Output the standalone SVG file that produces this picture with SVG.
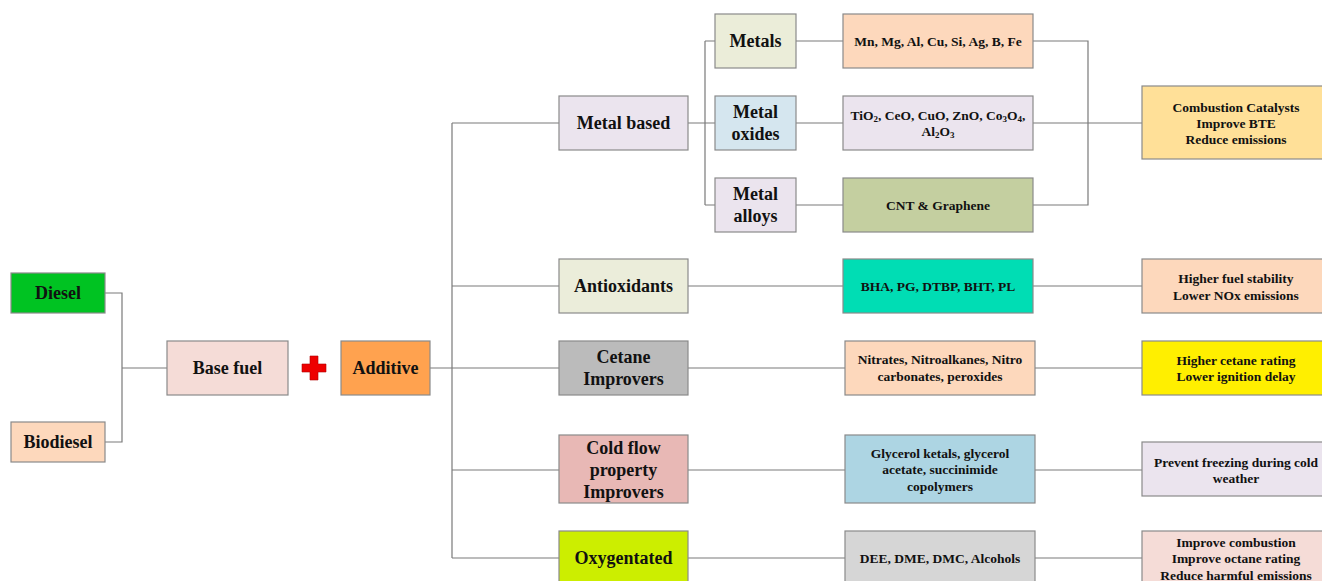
<svg xmlns="http://www.w3.org/2000/svg" width="1322" height="581" viewBox="0 0 1322 581">
  <style>
    .box { stroke: #8a8a8a; stroke-width: 1.2; }
    .lbl { font-family: "Liberation Serif", "Times New Roman", serif; font-weight: bold; fill: #111; text-anchor: middle; dominant-baseline: central; }
    .base { dominant-baseline: auto; }
    .big { font-size: 18px; }
    .sm { font-size: 13.5px; }
    .sub { font-size: 9px; }
    .wire { fill: none; stroke: #7a7a7a; stroke-width: 1.2; }
  </style>
  <rect width="1322" height="581" fill="#ffffff"/>

  <g id="connectors">
    <path class="wire" d="M105 293 H122 V442 H105 M122 368 H167"/>
    <path class="wire" d="M430 368 H452 M452 123 V558 M452 123 H559 M452 286 H559 M452 368 H559 M452 470 H559 M452 558 H559"/>
    <path class="wire" d="M688 123 H705 M705 41 V205 M705 41 H715 M705 123 H715 M705 205 H715"/>
    <path class="wire" d="M796 41 H843 M796 123 H843 M796 205 H843"/>
    <path class="wire" d="M1033 41 H1088 V205 H1033 M1033 123 H1142"/>
    <path class="wire" d="M688 286 H843 M1033 286 H1142"/>
    <path class="wire" d="M688 368 H845 M1035 368 H1142"/>
    <path class="wire" d="M688 470 H845 M1035 470 H1142"/>
    <path class="wire" d="M688 558 H845 M1035 558 H1142"/>
  </g>

  <g id="diesel">
    <rect class="box" x="11" y="273" width="94" height="40" fill="#00c322"/>
    <text class="lbl big" x="58" y="293">Diesel</text>
  </g>
  <g id="biodiesel">
    <rect class="box" x="11" y="422" width="94" height="40" fill="#fdd8bc"/>
    <text class="lbl big" x="58" y="442">Biodiesel</text>
  </g>
  <g id="base-fuel">
    <rect class="box" x="167" y="341" width="121" height="54" fill="#f5dcd7"/>
    <text class="lbl big" x="227.5" y="368">Base fuel</text>
  </g>
  <g id="plus">
    <path d="M310 356 H318 V364 H326 V372 H318 V380 H310 V372 H302 V364 H310 Z" fill="#ee0000" stroke="#b00000" stroke-width="0.6"/>
  </g>
  <g id="additive">
    <rect class="box" x="341" y="341" width="89" height="54" fill="#ffa24f"/>
    <text class="lbl big" x="385.5" y="368">Additive</text>
  </g>

  <g id="metal-based">
    <rect class="box" x="559" y="96" width="129" height="54" fill="#ebe4ee"/>
    <text class="lbl big" x="623.5" y="123">Metal based</text>
  </g>
  <g id="metals">
    <rect class="box" x="715" y="14" width="81" height="54" fill="#ebedd9"/>
    <text class="lbl big" x="755.5" y="41">Metals</text>
  </g>
  <g id="metal-oxides">
    <rect class="box" x="715" y="96" width="81" height="54" fill="#d5e6ef"/>
    <text class="lbl big" x="755.5" y="112">Metal</text>
    <text class="lbl big" x="755.5" y="134">oxides</text>
  </g>
  <g id="metal-alloys">
    <rect class="box" x="715" y="178" width="81" height="54" fill="#ebe4ee"/>
    <text class="lbl big" x="755.5" y="194">Metal</text>
    <text class="lbl big" x="755.5" y="216">alloys</text>
  </g>
  <g id="metals-list">
    <rect class="box" x="843" y="14" width="190" height="54" fill="#fdd8bc"/>
    <text class="lbl sm" x="938" y="41">Mn, Mg, Al, Cu, Si, Ag, B, Fe</text>
  </g>
  <g id="oxides-list">
    <rect class="box" x="843" y="96" width="190" height="54" fill="#ebe4ee"/>
    <text class="lbl base sm" x="938" y="119.5">TiO<tspan class="sub" dy="2">2</tspan><tspan dy="-2">, CeO, CuO, ZnO, Co</tspan><tspan class="sub" dy="2">3</tspan><tspan dy="-2">O</tspan><tspan class="sub" dy="2">4</tspan><tspan dy="-2">,</tspan></text>
    <text class="lbl base sm" x="938" y="135.5">Al<tspan class="sub" dy="2">2</tspan><tspan dy="-2">O</tspan><tspan class="sub" dy="2">3</tspan></text>
  </g>
  <g id="alloys-list">
    <rect class="box" x="843" y="178" width="190" height="54" fill="#c4cfa0"/>
    <text class="lbl sm" x="938" y="205">CNT &amp; Graphene</text>
  </g>
  <g id="metal-effects">
    <rect class="box" x="1142" y="86" width="190" height="73" fill="#ffe098"/>
    <text class="lbl sm" x="1236" y="107">Combustion Catalysts</text>
    <text class="lbl sm" x="1236" y="123">Improve BTE</text>
    <text class="lbl sm" x="1236" y="139">Reduce emissions</text>
  </g>

  <g id="antioxidants">
    <rect class="box" x="559" y="259" width="129" height="54" fill="#ebedda"/>
    <text class="lbl big" x="623.5" y="286">Antioxidants</text>
  </g>
  <g id="antioxidants-list">
    <rect class="box" x="843" y="259" width="190" height="54" fill="#00ddb4"/>
    <text class="lbl sm" x="938" y="286">BHA, PG, DTBP, BHT, PL</text>
  </g>
  <g id="antioxidants-effects">
    <rect class="box" x="1142" y="259" width="190" height="54" fill="#fdd8bc"/>
    <text class="lbl sm" x="1236" y="278">Higher fuel stability</text>
    <text class="lbl sm" x="1236" y="295">Lower NOx emissions</text>
  </g>

  <g id="cetane">
    <rect class="box" x="559" y="341" width="129" height="54" fill="#bbbbbb"/>
    <text class="lbl big" x="623.5" y="357">Cetane</text>
    <text class="lbl big" x="623.5" y="379">Improvers</text>
  </g>
  <g id="cetane-list">
    <rect class="box" x="845" y="341" width="190" height="54" fill="#fdd8bc"/>
    <text class="lbl sm" x="940" y="359">Nitrates, Nitroalkanes, Nitro</text>
    <text class="lbl sm" x="940" y="376">carbonates, peroxides</text>
  </g>
  <g id="cetane-effects">
    <rect class="box" x="1142" y="341" width="190" height="54" fill="#ffef00"/>
    <text class="lbl sm" x="1236" y="360">Higher cetane rating</text>
    <text class="lbl sm" x="1236" y="376">Lower ignition delay</text>
  </g>

  <g id="cold-flow">
    <rect class="box" x="559" y="435" width="129" height="68" fill="#e8b8b5"/>
    <text class="lbl big" x="623.5" y="448">Cold flow</text>
    <text class="lbl big" x="623.5" y="470">property</text>
    <text class="lbl big" x="623.5" y="492">Improvers</text>
  </g>
  <g id="cold-flow-list">
    <rect class="box" x="845" y="435" width="190" height="68" fill="#add5e3"/>
    <text class="lbl sm" x="940" y="453">Glycerol ketals, glycerol</text>
    <text class="lbl sm" x="940" y="469">acetate, succinimide</text>
    <text class="lbl sm" x="940" y="486">copolymers</text>
  </g>
  <g id="cold-flow-effects">
    <rect class="box" x="1142" y="442" width="190" height="54" fill="#ebe4ee"/>
    <text class="lbl sm" x="1236" y="462">Prevent freezing during cold</text>
    <text class="lbl sm" x="1236" y="478">weather</text>
  </g>

  <g id="oxygenated">
    <rect class="box" x="559" y="531" width="129" height="60" fill="#ccee00"/>
    <text class="lbl big" x="623.5" y="558">Oxygentated</text>
  </g>
  <g id="oxygenated-list">
    <rect class="box" x="845" y="531" width="190" height="60" fill="#d6d6d6"/>
    <text class="lbl sm" x="940" y="558">DEE, DME, DMC, Alcohols</text>
  </g>
  <g id="oxygenated-effects">
    <rect class="box" x="1142" y="531" width="190" height="60" fill="#f5dcd7"/>
    <text class="lbl sm" x="1236" y="542">Improve combustion</text>
    <text class="lbl sm" x="1236" y="558">Improve octane rating</text>
    <text class="lbl sm" x="1236" y="575">Reduce harmful emissions</text>
  </g>
</svg>
